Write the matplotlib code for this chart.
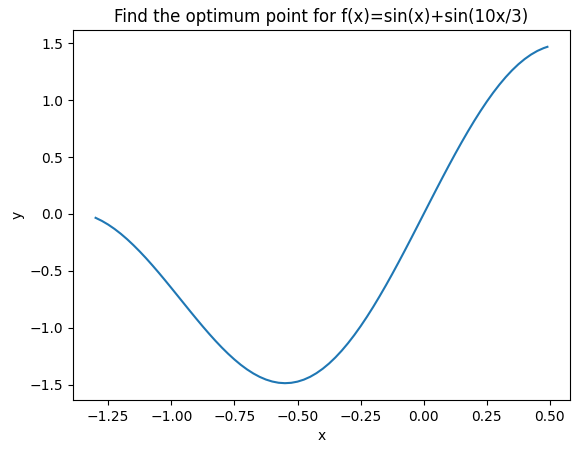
import matplotlib
matplotlib.use("Agg")
import matplotlib.pyplot as plt

# values
x = [-1.300, -1.275, -1.250, -1.225, -1.200, -1.175, -1.150, -1.125,
     -1.100, -1.075, -1.050, -1.025, -1.000, -0.975, -0.950, -0.925,
     -0.900, -0.875, -0.850, -0.825, -0.800, -0.775, -0.750, -0.725,
     -0.700, -0.675, -0.650, -0.625, -0.600, -0.575, -0.550, -0.525,
     -0.500, -0.475, -0.450, -0.425, -0.400, -0.375, -0.350, -0.325,
     -0.300, -0.275, -0.250, -0.225, -0.200, -0.175, -0.150, -0.125,
     -0.100, -0.075, -0.050, -0.025, 0.000, 0.025, 0.050, 0.075,
     0.100, 0.125, 0.150, 0.175, 0.200, 0.225, 0.250, 0.275,
     0.300, 0.325, 0.350, 0.375, 0.400, 0.425, 0.450, 0.475, 0.490]
y = [-0.0346, -0.0617, -0.0943, -0.1323, -0.1752, -0.2229, -0.2750, -0.3308,
     -0.3899, -0.4522, -0.5166, -0.5831, -0.6510, -0.7195, -0.7883, -0.8569,
     -0.9244, -0.9906, -1.0547, -1.1163, -1.1747, -1.2295, -1.2801, -1.3265,
     -1.3674, -1.4030, -1.4329, -1.4566, -1.4739, -1.4847, -1.4884, -1.4852,
     -1.4748, -1.4573, -1.4325, -1.4004, -1.3613, -1.3153, -1.2623, -1.2028,
     -1.1370, -1.0651, -0.9876, -0.9047, -0.8171, -0.7248, -0.6288, -0.5294,
     -0.4270, -0.3223, -0.2159, -0.1082, 0.0000, 0.1082, 0.2159, 0.3223,
     0.4270, 0.5294, 0.6288, 0.7248, 0.8171, 0.9047, 0.9876, 1.0651,
     1.1370, 1.2028, 1.2623, 1.3153, 1.3613, 1.4004, 1.4325, 1.4573, 1.4687]

fig = plt.figure(figsize=(5.79, 4.53), dpi=100)
fig.subplots_adjust(left=73 / 579, right=570 / 579, top=1 - 30 / 453, bottom=1 - 400 / 453)
ax = fig.add_subplot(111)
ax.plot(x, y)

ax.set_title("Find the optimum point for f(x)=sin(x)+sin(10x/3)")
ax.set_xlabel("x")
ax.set_ylabel("y")

fig.savefig("out.png", dpi=100)
